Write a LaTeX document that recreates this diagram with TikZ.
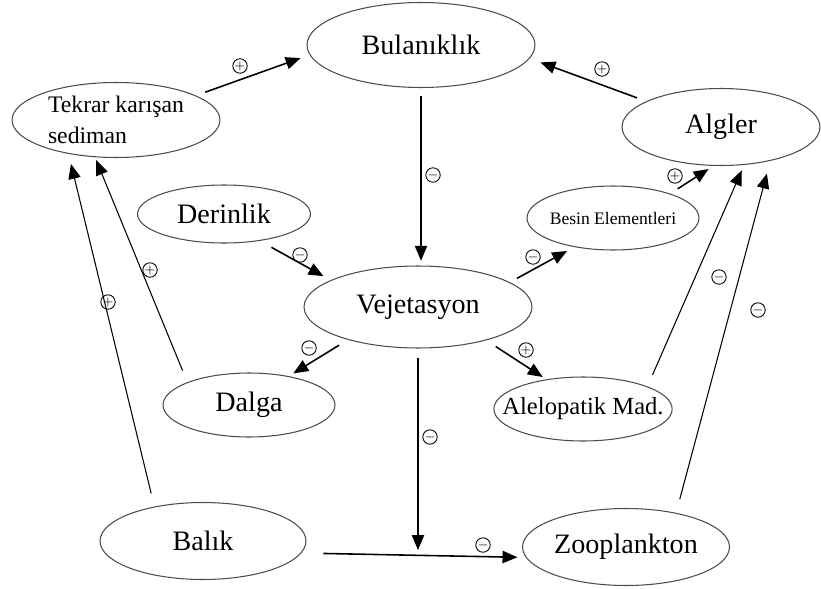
\documentclass[tikz,border=0pt]{standalone}
\usepackage{fontspec}
\setmainfont{Liberation Serif}
\usetikzlibrary{shapes.geometric,arrows.meta}

\begin{document}
\begin{tikzpicture}[x=0.02cm,y=-0.02cm,
  blob/.style={ellipse,draw=black!70,line width=0.6pt,inner xsep=-10pt,inner ysep=0pt,outer sep=0pt,font=\fontsize{16}{18}\selectfont},
  sgn/.style={circle,draw,line width=0.5pt,inner sep=0pt,minimum size=8.2pt,font=\fontsize{7}{7}\selectfont},
  arr/.style={-{Triangle[length=8.5pt,width=7pt]},line width=0.9pt},
  longarr/.style={arr,line width=0.6pt}]
\useasboundingbox (0,0) rectangle (821,588);

% Top row
\node[blob,minimum width=4.56cm,minimum height=1.7cm] (bulan) at (421,45) {Bulanıklık};
\node[blob,minimum width=4.16cm,minimum height=1.5cm,align=left,font=\fontsize{13.5}{18}\selectfont] (tekrar) at (116,120) {Tekrar karışan\\sediman};
\node[blob,minimum width=3.96cm,minimum height=1.54cm] (algler) at (721,127) {Algler};

% Middle
\node[blob,minimum width=3.46cm,minimum height=1.16cm] (derin) at (224,214) {Derinlik};
\node[blob,minimum width=3.44cm,minimum height=1.28cm,font=\fontsize{10}{12}\selectfont] (besin) at (613,218) {Besin Elementleri};
\node[blob,minimum width=4.56cm,minimum height=1.64cm] (vej) at (418,307) {Vejetasyon};
\node[blob,minimum width=3.44cm,minimum height=1.28cm] (dalga) at (249,405) {Dalga};
\node[blob,minimum width=3.44cm,minimum height=1.28cm,font=\fontsize{14}{16}\selectfont] (alelo) at (583,409) {Alelopatik Mad.};

% Bottom
\node[blob,minimum width=4.12cm,minimum height=1.54cm] (balik) at (203,541) {Balık};
\node[blob,minimum width=4.14cm,minimum height=1.54cm] (zoo) at (626,547) {Zooplankton};
\coordinate (hit) at (416,556);

% Arrows into Bulaniklik
\draw[arr,shorten <=6pt,shorten >=5.7pt] (tekrar.17) -- (bulan.185);
\draw[arr,shorten <=6pt,shorten >=6.8pt] (algler.161) -- (bulan.-7);

% Arrows round Vejetasyon
\draw[longarr,shorten <=5pt,shorten >=3pt] (bulan.south) -- (bulan.south |- vej.north);
\draw[arr,shorten <=8pt,shorten >=5pt] (derin.-37) -- (vej.163);
\draw[arr,shorten <=4.9pt,shorten >=5.1pt] (vej.15) -- (besin.217);
\draw[arr,shorten <=5.4pt,shorten >=3.8pt] (besin.23) -- (algler.260);
\draw[arr,shorten <=6.2pt,shorten >=3.4pt] (vej.205) -- (dalga.36);
\draw[arr,shorten <=6.8pt,shorten >=2.8pt] (vej.-26) -- (alelo.141);
\draw[longarr,shorten <=5.7pt,shorten >=3.4pt] (vej.south) -- (vej.south |- hit);

% Bottom and side arrows
\draw[arr,shorten <=12.8pt,shorten >=5.1pt] (balik.-7) -- (zoo.186);
\draw[longarr,shorten <=7.4pt,shorten >=2.1pt] (dalga.160) -- (tekrar.240);
\draw[longarr,shorten <=8pt,shorten >=6.2pt] (balik.145) -- (tekrar.215);
\draw[longarr,shorten <=7.4pt,shorten >=3.7pt] (alelo.19) -- (algler.-58);
\draw[longarr,shorten <=8.3pt,shorten >=7.8pt] (zoo.34) -- (algler.-34);

% Signs
\node[sgn] (p1) at (240,66) {$+$};
\node[sgn] (p2) at (602,69) {$+$};
\node[sgn] (m1) at (433,175) {$-$};
\node[sgn] (m2) at (300,255) {$-$};
\node[sgn] (m3) at (533,257) {$-$};
\node[sgn] (p3) at (675,176) {$+$};
\node[sgn] (m4) at (309,348) {$-$};
\node[sgn] (p4) at (526,350) {$+$};
\node[sgn] (m5) at (430,437) {$-$};
\node[sgn] (m6) at (483,545) {$-$};
\node[sgn] (p5) at (150,270) {$+$};
\node[sgn] (p6) at (108,302) {$+$};
\node[sgn] (m7) at (719,277) {$-$};
\node[sgn] (m8) at (758,310) {$-$};
\end{tikzpicture}
\end{document}
